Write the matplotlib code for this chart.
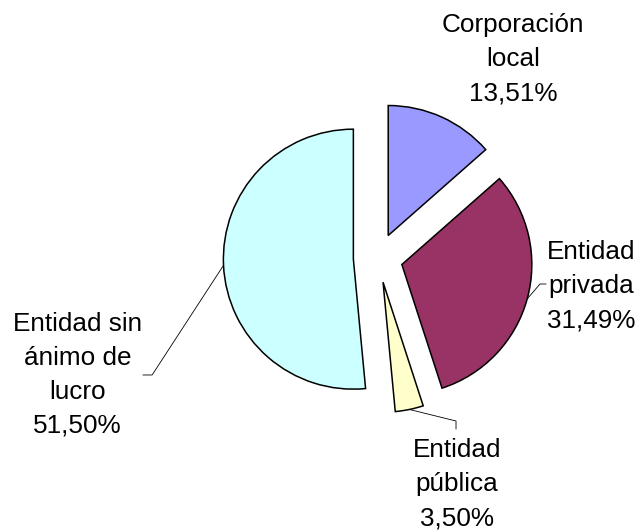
import numpy as np
import matplotlib
matplotlib.use("Agg")
import matplotlib.pyplot as plt

# data
labels = ["Corporación\nlocal", "Entidad\nprivada", "Entidad\npública", "Entidad sin\nánimo de\nlucro"]
values = [13.51, 31.49, 3.50, 51.50]
colors = ["#9999FF", "#993366", "#FFFFCC", "#CCFFFF"]

plt.rcParams['font.family'] = ['Liberation Sans', 'DejaVu Sans']

fig = plt.figure(figsize=(6.37, 5.32), dpi=100)
ax = fig.add_axes([0, 0, 1, 1])

explode = [0.19] * len(values)
wedges, _ = ax.pie(values, colors=colors, startangle=90, counterclock=False,
                   explode=explode, radius=1.0,
                   wedgeprops=dict(edgecolor="black", linewidth=1.1))

ax.set_aspect("equal")
ax.set_xlim(-2.908, 1.992)
ax.set_ylim(-2.108, 1.985)
ax.axis("off")

# label positions (baseline of last line)
label_pos = [(1.038, 1.215), (1.638, -0.531), (0.605, -2.055), (-2.312, -1.346)]
for lab, v, (tx, ty) in zip(labels, values, label_pos):
    txt = lab + "\n" + ("%.2f%%" % v).replace(".", ",")
    ax.text(tx, ty, txt, ha="center", va="baseline", fontsize=18.8,
            linespacing=1.52)

def arc_point(w):
    ang = np.deg2rad((w.theta1 + w.theta2) / 2)
    cx, cy = w.center
    return cx + w.r * np.cos(ang), cy + w.r * np.sin(ang)

# leader lines: (wedge index, elbow, end)
leaders = [
    (1, (1.246, -0.20), (1.292, -0.20)),
    (2, (0.600, -1.254), (0.600, -1.315)),
    (3, (-1.738, -0.900), (-1.808, -0.900)),
]
for i, (ex, ey), (fx, fy) in leaders:
    x0, y0 = arc_point(wedges[i])
    ax.plot([x0, ex, fx], [y0, ey, fy], color="black", lw=0.6)

fig.savefig("out.png", dpi=100, facecolor="white")
